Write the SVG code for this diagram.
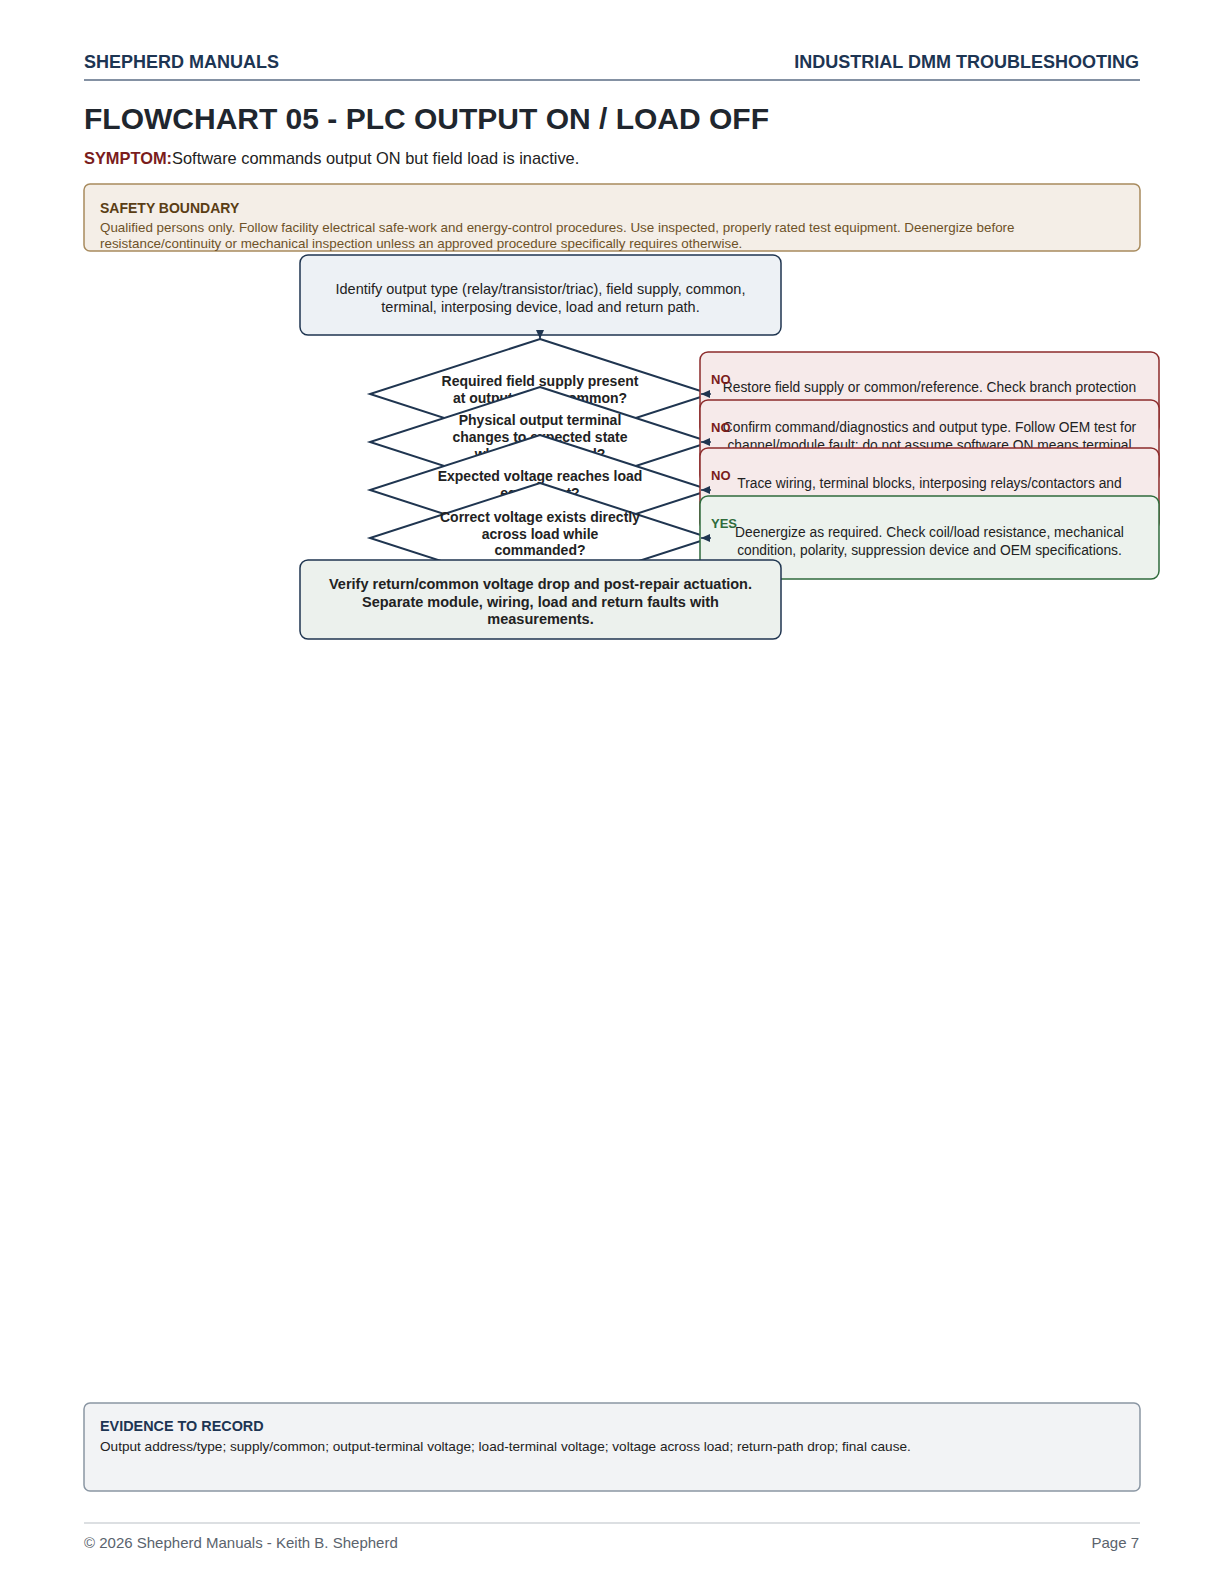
<svg xmlns="http://www.w3.org/2000/svg" width="1224" height="1584" viewBox="0 0 1224 1584">
<defs>
<style>
text{font-family:"Liberation Sans",Arial,Helvetica,sans-serif;}
.hdr{font-size:18px;font-weight:bold;fill:#1d3553;}
.title{font-size:30px;font-weight:bold;fill:#20262e;}
.sym{font-size:16.4px;fill:#222;}
.symk{font-weight:bold;fill:#7a1c1c;}
.sbox{fill:#f4eee7;stroke:#a88b5e;stroke-width:1.5;}
.stitle{font-size:14px;font-weight:bold;fill:#5a3d14;}
.sbody{font-size:13.4px;fill:#6e5228;}
.ebox{fill:#f2f3f5;stroke:#8a96a3;stroke-width:1.5;}
.etitle{font-size:14.4px;font-weight:bold;fill:#1d3553;}
.ebody{font-size:13.6px;fill:#222;}
.foot{font-size:15px;fill:#5a636d;}
.proc{fill:#edf1f5;stroke:#1f3550;stroke-width:1.5;}
.term{fill:#ecf1ed;stroke:#1f3550;stroke-width:1.5;}
.dec{fill:#ffffff;stroke:#1f3550;stroke-width:2;stroke-linejoin:miter;}
.nobox{fill:#f6eaea;stroke:#8c2b2b;stroke-width:1.5;}
.yesbox{fill:#ecf2ed;stroke:#2f6b3c;stroke-width:1.5;}
.t{font-size:14.5px;fill:#222;text-anchor:middle;}
.tr{font-size:13.8px;fill:#222;text-anchor:middle;}
.tb{font-size:14px;font-weight:bold;fill:#222;text-anchor:middle;}
.tbb{font-size:14.5px;font-weight:bold;fill:#222;text-anchor:middle;}
.no{font-size:13px;font-weight:bold;fill:#7a1c1c;}
.yes{font-size:13px;font-weight:bold;fill:#2f6b3c;}
.edge{stroke:#1f3550;stroke-width:1.5;fill:none;marker-end:url(#arr);}
</style>
<marker id="arr" markerUnits="userSpaceOnUse" markerWidth="9" markerHeight="8" refX="9" refY="4" orient="auto">
<path d="M0,0 L9,4 L0,8 z" fill="#1f3550"/>
</marker>
</defs>
<rect width="1224" height="1584" fill="#ffffff"/>

<g id="header">
<text class="hdr" x="84" y="68">SHEPHERD MANUALS</text>
<text class="hdr" x="1139" y="68" text-anchor="end">INDUSTRIAL DMM TROUBLESHOOTING</text>
<line x1="84" y1="80" x2="1140" y2="80" stroke="#5b6d84" stroke-width="1.5"/>
<text class="title" x="84" y="129">FLOWCHART 05 - PLC OUTPUT ON / LOAD OFF</text>
<text class="sym" x="84" y="164"><tspan class="symk">SYMPTOM:</tspan>Software commands output ON but field load is inactive.</text>
</g>

<g id="safety">
<rect class="sbox" x="84" y="184" width="1056" height="67" rx="6"/>
<text class="stitle" x="100" y="212.5">SAFETY BOUNDARY</text>
<text class="sbody" x="100" y="232">Qualified persons only. Follow facility electrical safe-work and energy-control procedures. Use inspected, properly rated test equipment. Deenergize before</text>
<text class="sbody" x="100" y="248">resistance/continuity or mechanical inspection unless an approved procedure specifically requires otherwise.</text>
</g>

<g id="n_start">
<rect class="proc" x="300" y="255" width="481" height="80" rx="8"/>
<text class="t" x="540.5" y="294">Identify output type (relay/transistor/triac), field supply, common,</text>
<text class="t" x="540.5" y="312">terminal, interposing device, load and return path.</text>
</g>

<g id="d1">
<polygon class="dec" points="540,339 710,394 540,449 370,394"/>
<text class="tb" x="540" y="386">Required field supply present</text>
<text class="tb" x="540" y="403">at output group common?</text>
</g>
<g id="r1">
<rect class="nobox" x="700" y="352" width="459" height="83" rx="8"/>
<text class="tr" x="929.5" y="392">Restore field supply or common/reference. Check branch protection</text>
</g>

<g id="d2">
<polygon class="dec" points="540,387 710,442 540,497 370,442"/>
<text class="tb" x="540" y="425">Physical output terminal</text>
<text class="tb" x="540" y="442">changes to expected state</text>
<text class="tb" x="540" y="459">when commanded?</text>
</g>
<g id="r2">
<rect class="nobox" x="700" y="400" width="459" height="83" rx="8"/>
<text class="tr" x="929.5" y="432">Confirm command/diagnostics and output type. Follow OEM test for</text>
<text class="tr" x="929.5" y="449.5">channel/module fault; do not assume software ON means terminal</text>
</g>

<g id="d3">
<polygon class="dec" points="540,435 710,490 540,545 370,490"/>
<text class="tb" x="540" y="481">Expected voltage reaches load</text>
<text class="tb" x="540" y="498">equipment?</text>
</g>
<g id="r3">
<rect class="nobox" x="700" y="448" width="459" height="83" rx="8"/>
<text class="tr" x="929.5" y="488">Trace wiring, terminal blocks, interposing relays/contactors and</text>
</g>

<g id="d4">
<polygon class="dec" points="540,483 710,538 540,593 370,538"/>
<text class="tb" x="540" y="522">Correct voltage exists directly</text>
<text class="tb" x="540" y="538.5">across load while</text>
<text class="tb" x="540" y="555">commanded?</text>
</g>
<g id="r4">
<rect class="yesbox" x="700" y="496" width="459" height="83" rx="8"/>
<text class="tr" x="929.5" y="537">Deenergize as required. Check coil/load resistance, mechanical</text>
<text class="tr" x="929.5" y="554.5">condition, polarity, suppression device and OEM specifications.</text>
</g>

<g id="n_end">
<rect class="term" x="300" y="560" width="481" height="79" rx="8"/>
<text class="tbb" x="540.5" y="589">Verify return/common voltage drop and post-repair actuation.</text>
<text class="tbb" x="540.5" y="606.5">Separate module, wiring, load and return faults with</text>
<text class="tbb" x="540.5" y="624">measurements.</text>
</g>

<g id="connectors">
<line class="edge" x1="540" y1="334" x2="540" y2="339"/>
<line class="edge" x1="711" y1="394" x2="701" y2="394"/>
<line class="edge" x1="711" y1="442" x2="701" y2="442"/>
<line class="edge" x1="711" y1="490" x2="701" y2="490"/>
<line class="edge" x1="711" y1="538" x2="701" y2="538"/>
<text class="no" x="711" y="383.5">NO</text>
<text class="no" x="711" y="431.5">NO</text>
<text class="no" x="711" y="479.5">NO</text>
<text class="yes" x="711" y="527.5">YES</text>
</g>

<g id="evidence">
<rect class="ebox" x="84" y="1403" width="1056" height="88" rx="6"/>
<text class="etitle" x="100" y="1431">EVIDENCE TO RECORD</text>
<text class="ebody" x="100" y="1451">Output address/type; supply/common; output-terminal voltage; load-terminal voltage; voltage across load; return-path drop; final cause.</text>
</g>

<g id="footer">
<line x1="84" y1="1523" x2="1140" y2="1523" stroke="#d0d4d8" stroke-width="1.5"/>
<text class="foot" x="84" y="1548">© 2026 Shepherd Manuals - Keith B. Shepherd</text>
<text class="foot" x="1139" y="1548" text-anchor="end">Page 7</text>
</g>
</svg>
